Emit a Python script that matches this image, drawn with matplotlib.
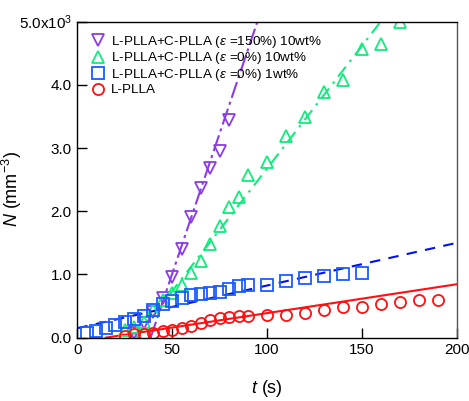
import matplotlib.pyplot as plt
from matplotlib.ticker import FuncFormatter

plt.rcParams['font.family'] = ['Liberation Sans', 'DejaVu Sans']
plt.rcParams['mathtext.fontset'] = 'custom'
plt.rcParams['mathtext.rm'] = 'Liberation Sans'
plt.rcParams['mathtext.it'] = 'Liberation Sans:italic'

# L-PLLA
t_pure = [25, 30, 35, 40, 45, 50, 55, 60, 65, 70, 75, 80, 85, 90,
          100, 110, 120, 130, 140, 150, 160, 170, 180, 190]
n_pure = [30, 50, 60, 80, 100, 120, 150, 190, 230, 280, 310, 330, 340, 350,
          360, 360, 390, 440, 480, 480, 530, 570, 590, 600]
fit_pure_t = [15, 200]
fit_pure_n = [0, 845]

# L-PLLA+C-PLLA (eps=0%) 1wt%
t_1wt = [5, 10, 15, 20, 25, 30, 35, 40, 45, 50, 55, 60, 65, 70, 75, 80, 85, 90,
         100, 110, 120, 130, 140, 150]
n_1wt = [70, 100, 160, 200, 250, 300, 350, 430, 530, 580, 630, 670, 690, 700,
         720, 770, 810, 830, 830, 900, 950, 980, 1010, 1030]
fit_1wt_t = [0, 200]
fit_1wt_n = [150, 1500]

# L-PLLA+C-PLLA (eps=0%) 10wt%
t_10wt = [25, 30, 35, 40, 45, 50, 55, 60, 65, 70, 75, 80, 85, 90,
          100, 110, 120, 130, 140, 150, 160, 170]
n_10wt = [120, 170, 250, 435, 590, 700, 830, 1020, 1220, 1480, 1760, 2070, 2230, 2570,
          2780, 3190, 3490, 3890, 4070, 4575, 4650, 4990]
fit_10wt_t = [31, 160]
fit_10wt_n = [0, 5005]

# L-PLLA+C-PLLA (eps=150%) 10wt%
t_150 = [30, 35, 40, 45, 50, 55, 60, 65, 70, 75, 80]
n_150 = [66, 225, 408, 625, 957, 1400, 1910, 2360, 2680, 2950, 3440]
fit_150_t = [38.6, 95]
fit_150_n = [0, 5010]

c_purple = '#8c3ce6'
c_green = '#10ec7c'
c_blue = '#1a5cff'
c_red = '#ff1010'

fig = plt.figure(figsize=(4.69, 4.01), dpi=100)
ax = fig.add_axes([0.165, 0.158, 0.809, 0.788])

ax.plot(fit_150_t, fit_150_n, color=c_purple, lw=1.5, dashes=(8, 2, 1.5, 2))
ax.plot(fit_10wt_t, fit_10wt_n, color=c_green, lw=1.5, dashes=(6, 3, 1.2, 3))
ax.plot(fit_1wt_t, fit_1wt_n, color='#0010ee', lw=1.5, dashes=(5, 4))
ax.plot(fit_pure_t, fit_pure_n, color=c_red, lw=1.5)

ms_kw = dict(ls='none', mfc='none', mew=1.3)
ax.plot(t_150, n_150, marker='v', ms=9, mec=c_purple, **ms_kw,
        label=r'L-PLLA+C-PLLA ($\mathit{\varepsilon}$ =150%) 10wt%')
ax.plot(t_10wt, n_10wt, marker='^', ms=9, mec=c_green, **ms_kw,
        label=r'L-PLLA+C-PLLA ($\mathit{\varepsilon}$ =0%) 10wt%')
ax.plot(t_1wt, n_1wt, marker='s', ms=8, mec=c_blue, **ms_kw,
        label=r'L-PLLA+C-PLLA ($\mathit{\varepsilon}$ =0%) 1wt%')
ax.plot(t_pure, n_pure, marker='o', ms=8, mec=c_red, **ms_kw,
        label='L-PLLA')

ax.set_xlim(0, 200)
ax.set_ylim(0, 5000)
ax.set_xticks([0, 50, 100, 150, 200])
ax.set_yticks([0, 1000, 2000, 3000, 4000, 5000])


def yfmt(v, pos):
    if v >= 5000:
        return r'5.0x10$^{3}$'
    return '%.1f' % (v / 1000)


ax.yaxis.set_major_formatter(FuncFormatter(yfmt))
ax.tick_params(direction='in', length=7, width=1, labelsize=11, pad=4,
               top=False, right=False)
for s in ax.spines.values():
    s.set_linewidth(1)
ax.spines['right'].set_color('#555555')

ax.set_xlabel(r'$\mathit{t}$ (s)', fontsize=13, labelpad=15)
ax.set_ylabel(r'$\mathit{N}$ (mm$^{-3}$)', fontsize=13)
ax.yaxis.set_label_coords(-0.14, 0.47)

ax.legend(loc='upper left', frameon=False, fontsize=9.7, handletextpad=0.4,
          labelspacing=0.05, borderaxespad=0.3, handlelength=1.2,
          borderpad=0.6)

fig.savefig('out.png', dpi=100)
